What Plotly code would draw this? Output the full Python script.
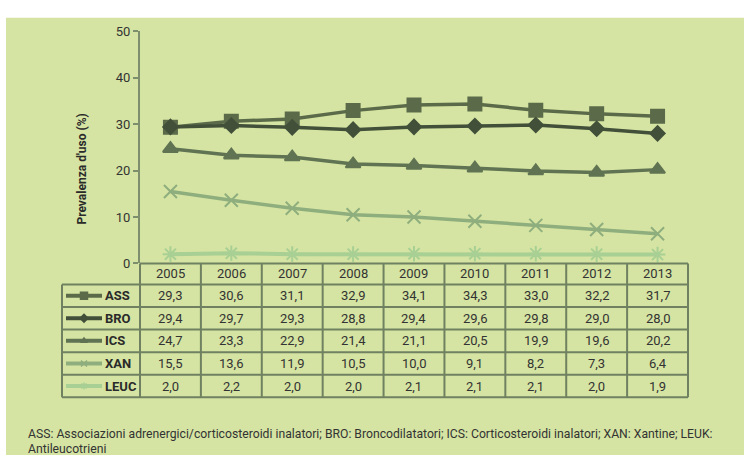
import plotly.graph_objects as go

# ---- data -------------------------------------------------------------
years = ["2005", "2006", "2007", "2008", "2009", "2010", "2011", "2012", "2013"]
ass = [29.3, 30.6, 31.1, 32.9, 34.1, 34.3, 33.0, 32.2, 31.7]
bro = [29.4, 29.7, 29.3, 28.8, 29.4, 29.6, 29.8, 29.0, 28.0]
ics = [24.7, 23.3, 22.9, 21.4, 21.1, 20.5, 19.9, 19.6, 20.2]
xan = [15.5, 13.6, 11.9, 10.5, 10.0, 9.1, 8.2, 7.3, 6.4]
leuc = [2.0, 2.2, 2.0, 2.0, 2.1, 2.1, 2.1, 2.0, 1.9]
series_names = ["ASS", "BRO", "ICS", "XAN", "LEUC"]
y_ticks = [0, 10, 20, 30, 40, 50]
y_title = "Prevalenza d'uso (%)"
footnote = [
    "ASS: Associazioni adrenergici/corticosteroidi inalatori; BRO: Broncodilatatori; "
    "ICS: Corticosteroidi inalatori; XAN: Xantine; LEUK:",
    "Antileucotrieni",
]

# ---- styling ----------------------------------------------------------
W, H = 744, 465
BG = "#d5e4a2"
GRID = "#6f8160"
TXT = "#333333"
FONT = "Liberation Sans Narrow, Roboto, Lato, sans-serif"

styles = [
    dict(color="#5b6b4a", symbol="square", size=13, width=3.5, lsize=7),
    dict(color="#42503a", symbol="diamond", size=11, width=3.5, lsize=6),
    dict(color="#607352", symbol="triangle-up", size=13, width=3.5, lsize=6),
    dict(color="#8fae7e", symbol="x-thin-open", size=13, width=3.5, lsize=6),
    dict(color="#a8cf94", symbol="asterisk-open", size=13, width=4, lsize=6),
]
values = [ass, bro, ics, xan, leuc]

# plot area in pixels
PX0, PX1 = 140, 688
PY0, PY1 = 25, 265
TBL_LEFT = 62
row_lines = [265, 286.7, 310, 333.3, 356.7, 380, 403.3]
col_w = (PX1 - PX0) / len(years)


def px(x):
    return x / W


def py(y):
    return 1 - y / H


def label(x, y, text, size=13, color=TXT, xanchor="center", angle=0):
    return dict(x=px(x), y=py(y), xref="paper", yref="paper", text=text,
                showarrow=False, xanchor=xanchor, yanchor="middle", textangle=angle,
                font=dict(size=size, color=color, family=FONT))


fig = go.Figure()

for name, vals, st in zip(series_names, values, styles):
    fig.add_trace(go.Scatter(
        x=years, y=vals, name=name, mode="lines+markers",
        line=dict(color=st["color"], width=st["width"]),
        marker=dict(symbol=st["symbol"], size=st["size"], color=st["color"],
                    line=dict(color=st["color"], width=2)),
        xaxis="x", yaxis="y", showlegend=False, hoverinfo="skip",
    ))

# legend keys inside the table (full-figure pixel axes)
for i, (name, st) in enumerate(zip(series_names, styles)):
    yc = (row_lines[i + 1] + row_lines[i + 2]) / 2
    fig.add_trace(go.Scatter(
        x=[66, 84, 102], y=[yc, yc, yc], mode="lines+markers",
        line=dict(color=st["color"], width=4),
        marker=dict(symbol=st["symbol"], size=st["lsize"], color=st["color"],
                    opacity=[0, 1, 0], line=dict(color=st["color"], width=1.5)),
        xaxis="x2", yaxis="y2", showlegend=False, hoverinfo="skip",
    ))

shapes = []
# green panel
shapes.append(dict(type="rect", xref="paper", yref="paper", x0=px(6), x1=px(W),
                   y0=py(463), y1=py(11), fillcolor=BG, line=dict(width=0), layer="below"))
# table horizontal rules
for k, yy in enumerate(row_lines):
    x0 = PX0 if k == 0 else TBL_LEFT
    shapes.append(dict(type="line", xref="paper", yref="paper", x0=px(x0), x1=px(PX1),
                       y0=py(yy), y1=py(yy), line=dict(color=GRID, width=2)))
# table vertical rules
shapes.append(dict(type="line", xref="paper", yref="paper", x0=px(TBL_LEFT), x1=px(TBL_LEFT),
                   y0=py(row_lines[1]), y1=py(row_lines[-1]), line=dict(color=GRID, width=2)))
for k in range(len(years) + 1):
    xx = PX0 + k * col_w
    shapes.append(dict(type="line", xref="paper", yref="paper", x0=px(xx), x1=px(xx),
                       y0=py(row_lines[0]), y1=py(row_lines[-1]),
                       line=dict(color=GRID, width=2)))

annotations = []
# header row (years)
for k, yr in enumerate(years):
    annotations.append(label(PX0 + (k + 0.5) * col_w, (row_lines[0] + row_lines[1]) / 2, yr))
# value cells and row labels
for i, (name, vals) in enumerate(zip(series_names, values)):
    yc = (row_lines[i + 1] + row_lines[i + 2]) / 2
    annotations.append(label(103, yc, "<b>%s</b>" % name, color="#2a2a2a", xanchor="left"))
    for k, v in enumerate(vals):
        annotations.append(label(PX0 + (k + 0.5) * col_w, yc, ("%.1f" % v).replace(".", ",")))
# y-axis title
annotations.append(label(82, 168, "<b>%s</b>" % y_title, size=12, color="#2a2a2a", angle=-90))
# footnote
for j, line in enumerate(footnote):
    annotations.append(label(26, 441 + j * 16, line, size=12.2, xanchor="left"))

fig.update_layout(
    width=W, height=H, autosize=False,
    margin=dict(l=0, r=0, t=0, b=0, pad=0),
    paper_bgcolor="white", plot_bgcolor="rgba(0,0,0,0)",
    font=dict(family=FONT, color=TXT),
    xaxis=dict(domain=[PX0 / W, PX1 / W], type="category", range=[-0.5, len(years) - 0.5],
               showticklabels=False, ticks="", showline=False, showgrid=False,
               zeroline=False, anchor="y"),
    yaxis=dict(domain=[1 - PY1 / H, 1 - PY0 / H], range=[0, 50], tickvals=y_ticks,
               ticks="outside", ticklen=5, tickwidth=2, tickcolor="#7d8f6c",
               showline=True, linecolor="#7d8f6c", linewidth=2, showgrid=False,
               zeroline=False, tickfont=dict(size=13, color=TXT, family=FONT),
               anchor="x"),
    xaxis2=dict(domain=[0, 1], range=[0, W], visible=False, anchor="y2"),
    yaxis2=dict(domain=[0, 1], range=[H, 0], visible=False, anchor="x2"),
    shapes=shapes, annotations=annotations,
)

fig.write_html("out.html")
